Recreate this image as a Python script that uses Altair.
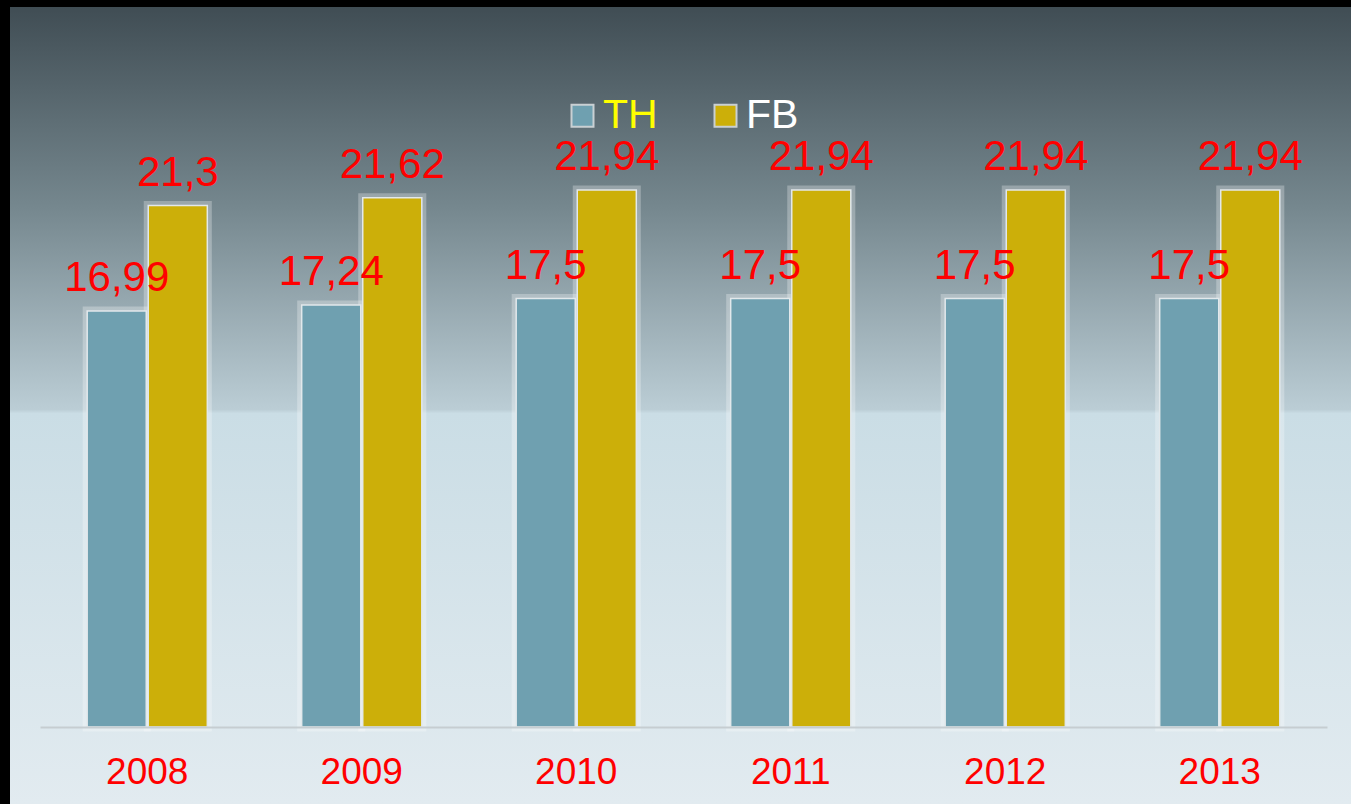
import altair as alt
import pandas as pd

years = ["2008", "2009", "2010", "2011", "2012", "2013"]
th_values = [16.99, 17.24, 17.5, 17.5, 17.5, 17.5]
fb_values = [21.3, 21.62, 21.94, 21.94, 21.94, 21.94]
series = ["TH", "FB"]
colors = ["#6fa0b0", "#ccaf09"]

rows = []
for y, a, b in zip(years, th_values, fb_values):
    for s, v in (("TH", a), ("FB", b)):
        rows.append({"year": y, "series": s, "value": v,
                     "label": f"{v:g}".replace(".", ",")})
df = pd.DataFrame(rows)

W, H = 1287, 612

x_enc = alt.X("year:N", sort=years, title=None,
              scale=alt.Scale(paddingInner=0.44, paddingOuter=0.22),
              axis=alt.Axis(labelAngle=0, labelColor="#ff0000", labelFontSize=37,
                            labelFont="Liberation Sans", ticks=False, tickSize=0,
                            labelPadding=27, domainColor="#c6cdd1", domainWidth=2,
                            grid=False, zindex=2))
xo_enc = alt.XOffset("series:N", sort=series,
                     scale=alt.Scale(domain=series, paddingInner=0.033, paddingOuter=0))
y_enc = alt.Y("value:Q", title=None,
              scale=alt.Scale(domain=[0, 25], nice=False, zero=True),
              axis=None)

bg = alt.Chart(pd.DataFrame({"a": [0]})).mark_rect(
    fill=alt.Gradient(
        gradient="linear", x1=0, x2=0, y1=0, y2=1,
        stops=[
            alt.GradientStop(offset=0.0, color="#404d54"),
            alt.GradientStop(offset=0.25, color="#75878e"),
            alt.GradientStop(offset=0.505, color="#bbcdd5"),
            alt.GradientStop(offset=0.51, color="#cadde5"),
            alt.GradientStop(offset=1.0, color="#e2ebf0"),
        ],
    )
).encode(x=alt.value(-30), x2=alt.value(W + 24), y=alt.value(-108), y2=alt.value(H + 77))

glow = alt.Chart(df).mark_bar(fillOpacity=0, stroke="#ffffff", strokeOpacity=0.28,
                              strokeWidth=9).encode(x=x_enc, xOffset=xo_enc, y=y_enc)

bars = alt.Chart(df).mark_bar(stroke="#e2e8eb", strokeWidth=1.5).encode(
    x=x_enc, xOffset=xo_enc, y=y_enc,
    color=alt.Color("series:N", sort=series,
                    scale=alt.Scale(domain=series, range=colors),
                    legend=alt.Legend(
                        orient="none", legendX=522, legendY=-20, direction="horizontal",
                        title=None, symbolType="square", symbolSize=484,
                        symbolStrokeColor="#c9d0d3", symbolStrokeWidth=2, symbolOpacity=1,
                        labelFontSize=41, labelFont="Liberation Sans", labelOffset=0,
                        columnPadding=47, padding=0,
                        labelColor=alt.ExprRef(expr="datum.value == 'TH' ? '#ffff00' : '#ffffff'"),
                    )),
)

text = alt.Chart(df).mark_text(fontSize=42, font="Liberation Sans", color="#ff0000",
                               baseline="alphabetic", align="center", dy=-20).encode(
    x=x_enc, xOffset=xo_enc, y=y_enc, text="label:N")

chart = alt.layer(bg, glow, bars, text).properties(
    width=W, height=H,
    padding={"left": 40, "top": 115, "right": 24, "bottom": 77},
    autosize=alt.AutoSizeParams(type="none"),
).configure(background="#000000").configure_view(stroke=None)

chart.save("out.html", embed_options={"renderer": "svg", "actions": False})
